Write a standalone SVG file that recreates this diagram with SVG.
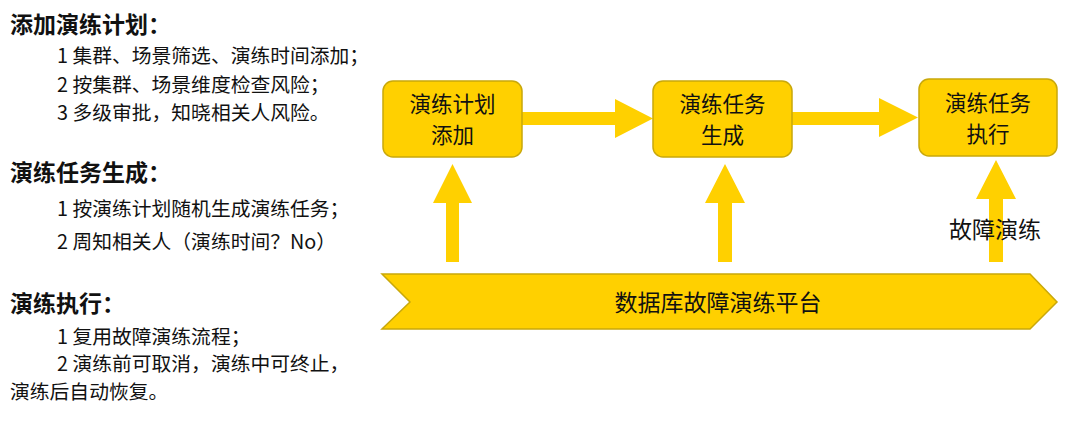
<svg xmlns="http://www.w3.org/2000/svg" width="1080" height="433" viewBox="0 0 1080 433">
<style>
  .cjk { font-family: "Noto Sans CJK SC", "Liberation Sans", sans-serif; fill: #111; }
  .title { font-size: 23px; font-weight: bold; }
  .item { font-size: 19.8px; }
  .box { fill: #FFD000; stroke: #C9A80A; stroke-width: 1.5; }
  .lbl { font-size: 23px; text-anchor: middle; }
  .nlbl { font-size: 21.5px; text-anchor: middle; }
  .arrow { fill: #FFD000; stroke: none; }
</style>
<rect width="1080" height="433" fill="#FFFFFF"/>

<g id="notes" class="cjk">
  <text class="title" x="10" y="33">添加演练计划：</text>
  <text class="item" x="57" y="63">1 集群、场景筛选、演练时间添加；</text>
  <text class="item" x="57" y="92">2 按集群、场景维度检查风险；</text>
  <text class="item" x="57" y="120">3 多级审批，知晓相关人风险。</text>

  <text class="title" x="10" y="181">演练任务生成：</text>
  <text class="item" x="57" y="216">1 按演练计划随机生成演练任务；</text>
  <text class="item" x="57" y="249">2 周知相关人（演练时间？No）</text>

  <text class="title" x="10" y="312">演练执行：</text>
  <text class="item" x="57" y="344">1 复用故障演练流程；</text>
  <text class="item" x="57" y="371">2 演练前可取消，演练中可终止，</text>
  <text class="item" x="10" y="399">演练后自动恢复。</text>
</g>

<g id="connectors">
  <polygon class="arrow" points="522,112 615,112 615,99 653,118.5 615,138 615,125 522,125"/>
  <polygon class="arrow" points="792,112 879,112 879,98 918,117.5 879,137 879,125 792,125"/>
  <polygon class="arrow" points="446,262 446,203 433,203 452.5,164 472,203 459,203 459,262"/>
  <polygon class="arrow" points="718,262 718,203 705,203 725,164 745,203 732,203 732,262"/>
  <polygon class="arrow" points="989,262 989,199 976,199 996,160 1016,199 1003,199 1003,262"/>
  <text class="cjk lbl" x="995" y="238">故障演练</text>
</g>

<g id="node-plan">
  <rect class="box" x="383" y="81" width="139" height="76" rx="10" ry="10"/>
  <text class="cjk nlbl" x="452.5" y="111.5">演练计划</text>
  <text class="cjk nlbl" x="452.5" y="143">添加</text>
</g>

<g id="node-generate">
  <rect class="box" x="653" y="81" width="139" height="76" rx="10" ry="10"/>
  <text class="cjk nlbl" x="722.5" y="111.5">演练任务</text>
  <text class="cjk nlbl" x="722.5" y="143">生成</text>
</g>

<g id="node-execute">
  <rect class="box" x="919" y="79" width="138" height="77" rx="10" ry="10"/>
  <text class="cjk nlbl" x="988" y="110.5">演练任务</text>
  <text class="cjk nlbl" x="988" y="142">执行</text>
</g>

<g id="node-platform">
  <polygon class="box" points="382,274 1030,274 1057,302 1030,329 382,329 410,302"/>
  <text class="cjk lbl" x="718" y="311">数据库故障演练平台</text>
</g>
</svg>
